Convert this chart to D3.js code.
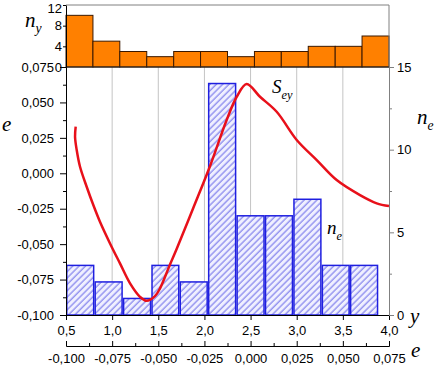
<!DOCTYPE html>
<html>
<head>
<meta charset="utf-8">
<script src="https://cdn.jsdelivr.net/npm/d3@7"></script>
<style>
  body { margin: 0; background: #fff; }
  svg { display: block; }
  .axis text { font-family: "Liberation Sans", Arial, sans-serif; font-size: 13px; fill: #000; }
  .lbl { font-family: "Liberation Serif", "Times New Roman", serif; font-style: italic; fill: #000; }
</style>
</head>
<body>
<svg width="435" height="368"></svg>
<script>
// top histogram n_y (bins over y)
var nyEdges = [0.5, 0.792, 1.083, 1.375, 1.667, 1.958, 2.25, 2.542, 2.833, 3.125, 3.417, 3.708, 4.0];
var nyCounts = [10, 5, 3, 2, 3, 3, 2, 3, 3, 4, 4, 6];

// lower histogram n_e (bins over e, bottom axis)
var neEdges = [-0.1, -0.0846, -0.0692, -0.0538, -0.0385, -0.0231, -0.0077, 0.0077, 0.0231, 0.0385, 0.0538, 0.0692];
var neCounts = [3, 2, 1, 3, 2, 14, 6, 6, 7, 3, 3];

// curve S_ey : y -> e
var seyY = [0.605, 0.598, 0.616, 0.652, 0.724, 0.796, 0.868, 0.977, 1.085, 1.194, 1.302, 1.374, 1.464, 1.519, 1.627, 1.700, 1.879, 2.060, 2.241, 2.350, 2.458, 2.602, 2.783, 3.000, 3.217, 3.433, 3.686, 3.867, 4.0];
var seyE = [0.0329, 0.0258, 0.0164, 0.0046, -0.0095, -0.0224, -0.0342, -0.0495, -0.0636, -0.0777, -0.0872, -0.0900, -0.0867, -0.0812, -0.0644, -0.0533, -0.0245, 0.0050, 0.0376, 0.0540, 0.0630, 0.0540, 0.0434, 0.0235, 0.0093, -0.0048, -0.0154, -0.0212, -0.0231];

var yTicks = [0.5, 1.0, 1.5, 2.0, 2.5, 3.0, 3.5, 4.0];
var gridTicks = [1.0, 1.5, 2.0, 2.5, 3.0, 3.5];
var eTicks = [-0.1, -0.075, -0.05, -0.025, 0, 0.025, 0.05, 0.075];
var eMinor = [-0.0875, -0.0625, -0.0375, -0.0125, 0.0125, 0.0375, 0.0625];
var neTicks = [0, 5, 10, 15];
var neMinor = [2.5, 7.5, 12.5];
var nyTicks = [0, 4, 8, 12];

var svg = d3.select("svg");
var L = 66, R = 389, T = 67, B = 315, TT = 5;

var loc = d3.formatLocale({decimal: ",", thousands: " ", grouping: [3], currency: ["", ""], minus: "-"});
var f3 = loc.format(".3f"), f1 = loc.format(".1f");

var x = d3.scaleLinear().domain([0.5, 4]).range([L, R]);
var eY = d3.scaleLinear().domain([-0.1, 0.075]).range([B, T]);
var neY = d3.scaleLinear().domain([0, 15]).range([B, T]);
var nyY = d3.scaleLinear().domain([0, 12]).range([T, TT]);
var eX = d3.scaleLinear().domain([-0.1, 0.075]).range([L, R]);

// hatch pattern
var pat = svg.append("defs").append("pattern")
    .attr("id", "hatch")
    .attr("patternUnits", "userSpaceOnUse")
    .attr("width", 4.5).attr("height", 4.5)
    .attr("patternTransform", "rotate(45)");
pat.append("rect").attr("width", 4.5).attr("height", 4.5).attr("fill", "#f0f0ff");
pat.append("line").attr("x1", 1).attr("y1", 0).attr("x2", 1).attr("y2", 4.5)
    .attr("stroke", "#5a5ae6").attr("stroke-width", 0.9);

// grid
svg.append("g").selectAll("line").data(gridTicks).enter().append("line")
    .attr("x1", function(d) { return x(d); }).attr("x2", function(d) { return x(d); })
    .attr("y1", T).attr("y2", B)
    .attr("stroke", "#c4c4c4").attr("stroke-width", 1);

// n_e bars
svg.append("g").selectAll("rect").data(neCounts).enter().append("rect")
    .attr("x", function(d, i) { return eX(neEdges[i]) + 0.75; })
    .attr("width", function(d, i) {
        var hi = i < neEdges.length - 1 ? neEdges[i + 1] : neEdges[i] + (neEdges[1] - neEdges[0]);
        return eX(hi) - eX(neEdges[i]) - 1.5;
    })
    .attr("y", function(d) { return neY(d); })
    .attr("height", function(d) { return B - neY(d); })
    .attr("fill", "url(#hatch)")
    .attr("stroke", "#1f1fe0").attr("stroke-width", 1.5);

// S_ey curve
var line = d3.line()
    .x(function(d, i) { return x(seyY[i]); })
    .y(function(d, i) { return eY(seyE[i]); })
    .curve(d3.curveCatmullRom.alpha(0.5));
svg.append("path").datum(seyY)
    .attr("d", line)
    .attr("fill", "none").attr("stroke", "#e8101a").attr("stroke-width", 2.5);

// top histogram n_y
svg.append("g").selectAll("rect").data(nyCounts).enter().append("rect")
    .attr("x", function(d, i) { return x(nyEdges[i]); })
    .attr("width", function(d, i) { return x(nyEdges[i + 1]) - x(nyEdges[i]); })
    .attr("y", function(d) { return nyY(d); })
    .attr("height", function(d) { return T - nyY(d); })
    .attr("fill", "#ff8000").attr("stroke", "#3a1800").attr("stroke-width", 1);

// frame lines
svg.append("line").attr("x1", L).attr("x2", R).attr("y1", TT).attr("y2", TT).attr("stroke", "#808080");
svg.append("line").attr("x1", R).attr("x2", R).attr("y1", TT).attr("y2", T).attr("stroke", "#808080");
svg.append("line").attr("x1", L).attr("x2", R).attr("y1", T).attr("y2", T).attr("stroke", "#222");

// left e axis
svg.append("g").attr("class", "axis").attr("transform", "translate(" + L + ",0)")
    .call(d3.axisLeft(eY).tickValues(eTicks).tickFormat(f3).tickSize(6).tickPadding(6).tickSizeOuter(0));
svg.append("g").attr("class", "axis").attr("transform", "translate(" + L + ",0)")
    .call(d3.axisLeft(eY).tickValues(eMinor).tickFormat("").tickSize(3).tickSizeOuter(0));

// top panel n_y axis
var nyAx = svg.append("g").attr("class", "axis").attr("transform", "translate(" + L + ",0)");
nyAx.call(d3.axisLeft(nyY).tickValues(nyTicks).tickFormat(d3.format("d")).tickSize(3).tickPadding(1).tickSizeOuter(0));
// keep the top label inside the picture
nyAx.selectAll(".tick text").filter(function(d) { return d === 12; }).attr("dy", "0.6em");

// bottom y axis
svg.append("g").attr("class", "axis").attr("transform", "translate(0," + B + ")")
    .call(d3.axisBottom(x).tickValues(yTicks).tickFormat(f1).tickSize(5).tickPadding(6).tickSizeOuter(0));

// right n_e axis
var rAx = svg.append("g").attr("class", "axis").attr("transform", "translate(" + R + ",0)");
rAx.call(d3.axisRight(neY).tickValues(neTicks).tickFormat(d3.format("d")).tickSize(5).tickPadding(3).tickSizeOuter(0));
rAx.select(".domain").attr("stroke", "#808080");
rAx.selectAll(".tick line").attr("stroke", "#808080");
var rAx2 = svg.append("g").attr("class", "axis").attr("transform", "translate(" + R + ",0)");
rAx2.call(d3.axisRight(neY).tickValues(neMinor).tickFormat("").tickSize(3).tickSizeOuter(0));
rAx2.selectAll("line, path").attr("stroke", "#808080");

// lower e axis
svg.append("g").attr("class", "axis").attr("transform", "translate(0,346)")
    .call(d3.axisBottom(eX).tickValues(eTicks).tickFormat(f3).tickSize(-5).tickPadding(8).tickSizeOuter(0));
svg.append("g").attr("class", "axis").attr("transform", "translate(0,346)")
    .call(d3.axisBottom(eX).tickValues(eMinor).tickFormat("").tickSize(-3).tickSizeOuter(0));

// text labels
function lbl(tx, ty, main, sub, size) {
    var t = svg.append("text").attr("class", "lbl").attr("x", tx).attr("y", ty).style("font-size", size + "px");
    t.append("tspan").text(main);
    if (sub) t.append("tspan").attr("dy", size * 0.3).style("font-size", (size * 0.65) + "px").text(sub);
}
lbl(2, 131, "e", null, 21);
lbl(25, 27, "n", "y", 21);
lbl(417, 124, "n", "e", 21);
lbl(410, 323, "y", null, 21);
lbl(411, 357, "e", null, 21);
lbl(272, 93, "S", "ey", 19);
lbl(327, 234, "n", "e", 19);
</script>
</body>
</html>
